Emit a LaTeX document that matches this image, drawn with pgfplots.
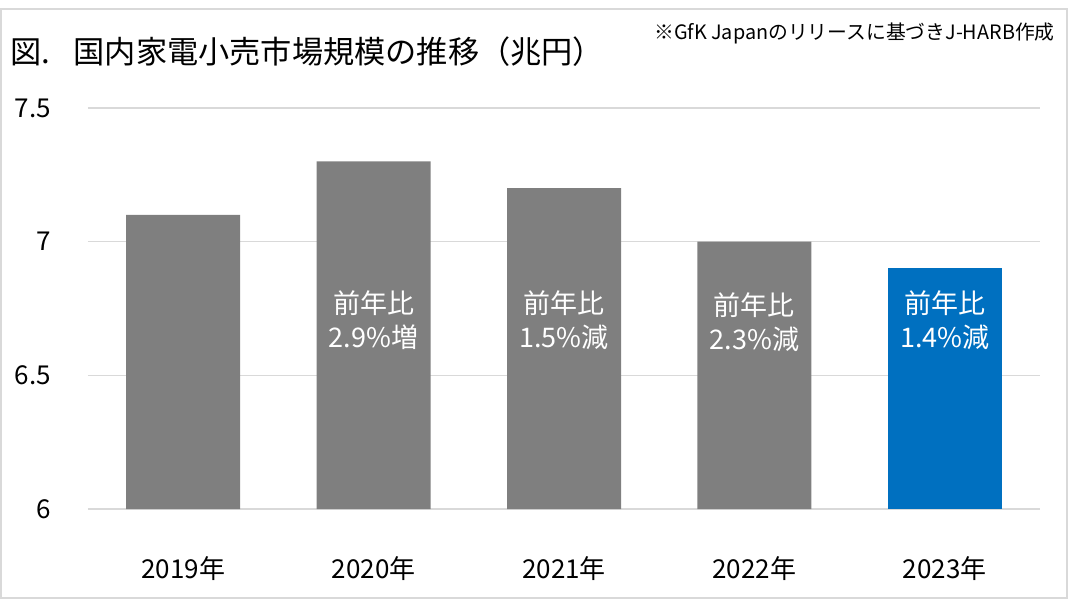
\documentclass[border=0pt]{standalone}
\usepackage{pgfplots}
\pgfplotsset{compat=1.18}
\usepackage{fontspec}
\setmainfont{Noto Sans CJK JP}
\definecolor{barGray}{HTML}{7F7F7F}
\definecolor{barBlue}{HTML}{0070C0}
\definecolor{gridGray}{HTML}{D9D9D9}
\begin{document}
\begin{tikzpicture}
  \path[use as bounding box] (-44pt,-45.5pt) rectangle (493pt,254.5pt);
  \draw[gridGray, line width=1pt] (-43.5pt,-44.5pt) rectangle (489.5pt,250pt);
  \begin{axis}[
      scale only axis,
      width=476pt, height=200.5pt,
      at={(0pt,0pt)}, anchor=south west,
      xmin=-0.5, xmax=4.5,
      ymin=6, ymax=7.5,
      xtick={0,...,4},
      xticklabels={2019年,2020年,2021年,2022年,2023年},
      ytick={6,6.5,7,7.5},
      axis line style={draw=none},
      major tick length=0pt,
      ymajorgrids,
      grid style={gridGray, line width=0.75pt},
      /pgf/number format/assume math mode=true,
      tick label style={font=\fontsize{13}{15}\selectfont, text=black},
      yticklabel style={anchor=east, xshift=-15pt},
      xticklabel style={anchor=center, yshift=-30pt},
    ]
    \addplot[ybar, bar width=57pt, bar shift=0pt, fill=barGray, draw=none]
      coordinates {(0,7.1) (1,7.3) (2,7.2) (3,7.0)};
    \addplot[ybar, bar width=57pt, bar shift=0pt, fill=barBlue, draw=none]
      coordinates {(4,6.9)};
    \begin{scope}[every node/.style={text=white, align=center,
        font=\fontsize{13.5}{17}\selectfont}]
      \node at (axis cs:1,6.707) {前年比\\2.9\%増};
      \node at (axis cs:2,6.707) {前年比\\1.5\%減};
      \node at (axis cs:3,6.70) {前年比\\2.3\%減};
      \node at (axis cs:4,6.705) {前年比\\1.4\%減};
    \end{scope}
  \end{axis}
  \node[anchor=west, font=\fontsize{15.6}{18}\selectfont, inner sep=0pt]
    at (-39pt,228.5pt) {図.\hspace{0.75em}国内家電小売市場規模の推移（兆円）};
  \node[anchor=east, font=\fontsize{9.9}{12}\selectfont, inner sep=0pt]
    at (483.5pt,238pt) {※GfK Japanのリリースに基づきJ-HARB作成};
\end{tikzpicture}
\end{document}
